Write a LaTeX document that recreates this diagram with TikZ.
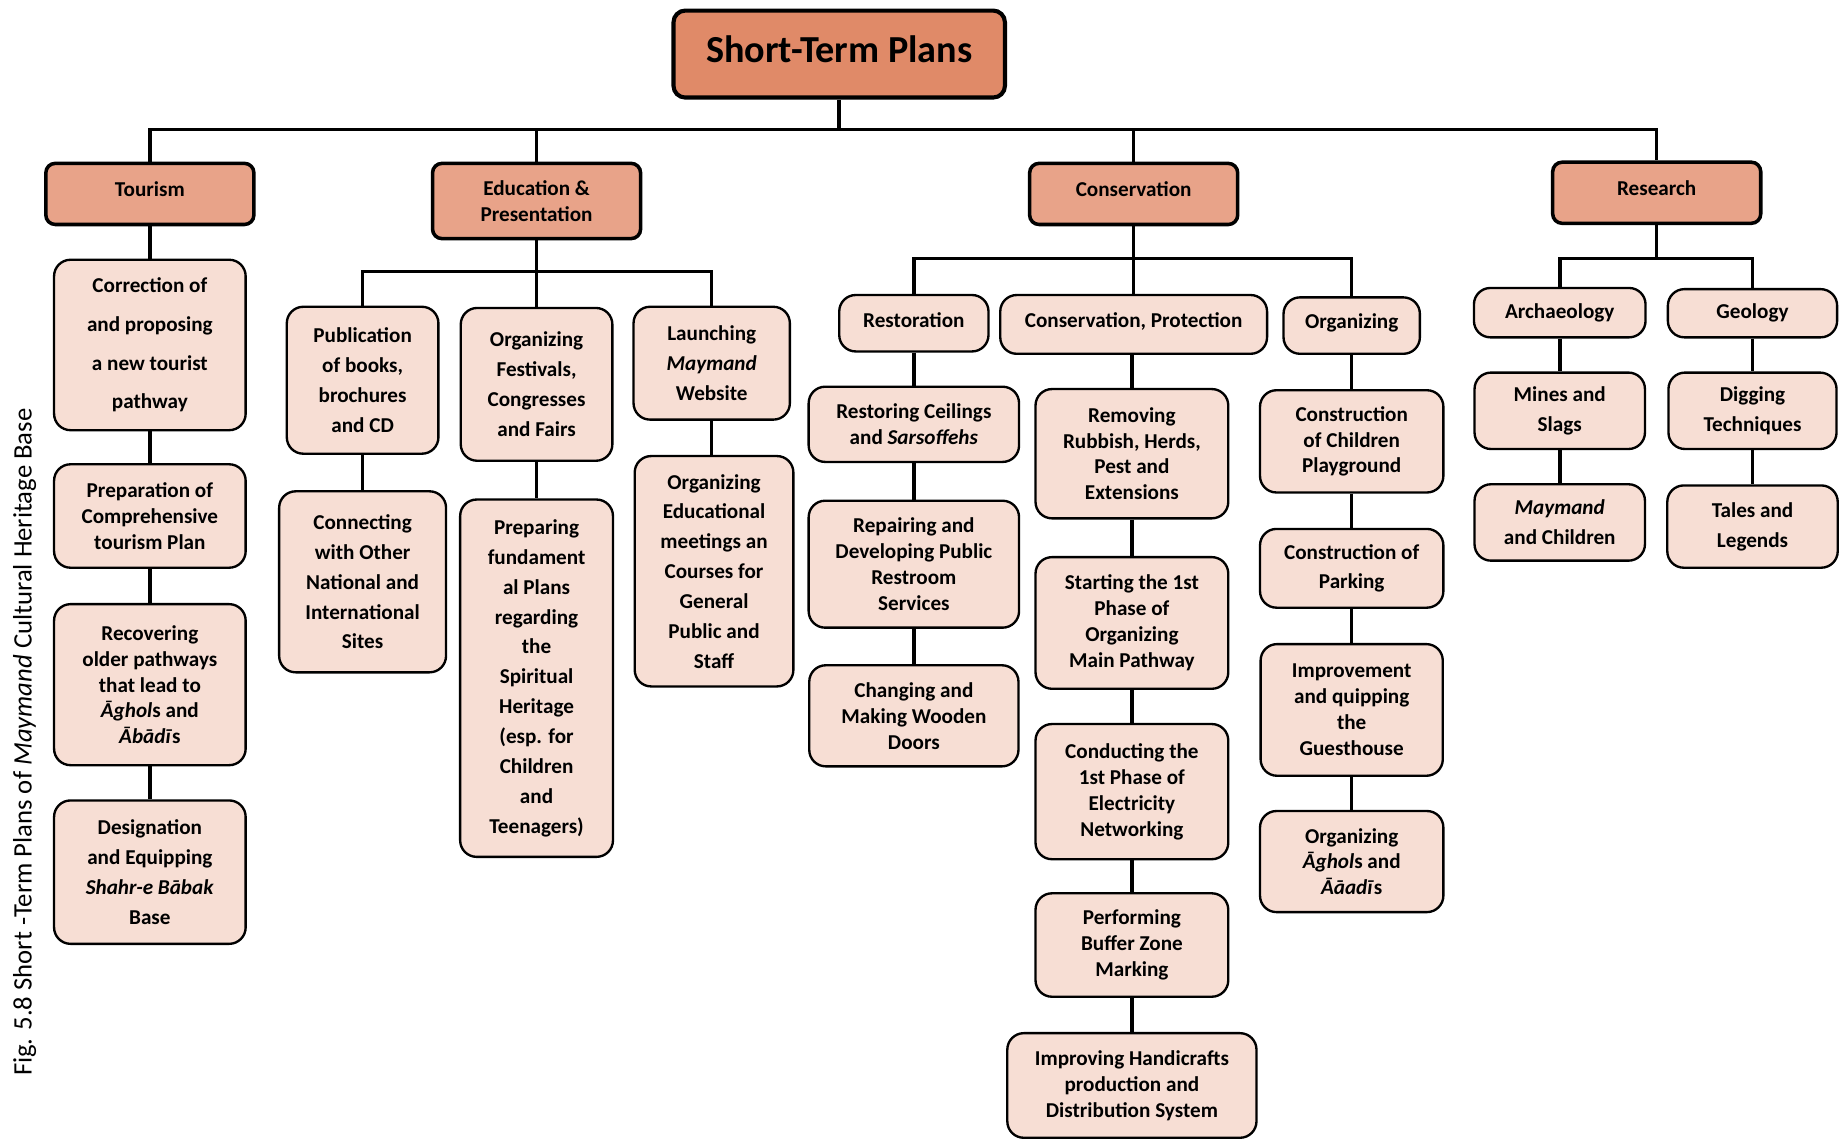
\documentclass[tikz,border=0pt]{standalone}
\usepackage{fontspec}
\setmainfont{Carlito}

\definecolor{saumonFonce}{RGB}{224,138,104}
\definecolor{saumon}{RGB}{232,163,137}
\definecolor{saumonClair}{RGB}{247,222,212}

\begin{document}
\begin{tikzpicture}[x=1pt,y=-1pt]
    		\tikzstyle{racine}=[draw, line width=3.5pt, rounded corners=10pt, fill=saumonFonce, inner sep=0pt, text depth=8pt, font=\bfseries\fontsize{32.5}{38}\selectfont]
    		\tikzstyle{branche}=[draw, line width=3pt, rounded corners=8pt, fill=saumon, inner sep=0pt, align=center, font=\bfseries\fontsize{18}{22}\selectfont]
    		\tikzstyle{feuille}=[draw, line width=2pt, rounded corners=14pt, fill=saumonClair, inner sep=0pt, align=center, font=\bfseries\fontsize{18}{22}\selectfont]
    		\tikzstyle{feuilleAeree}=[feuille, font=\bfseries\fontsize{18}{25.4}\selectfont]
    		\tikzstyle{lien}=[line width=3pt]

    		\useasboundingbox (0,0) rectangle (1568,971);

    		% root and the four branches
    		\node [racine, minimum width=282pt, minimum height=74pt] (racine) at (714,46) {Short-Term Plans};
    		\node [branche, minimum width=177pt, minimum height=52pt, text depth=8pt] (tourism) at (127.5,165) {Tourism};
    		\node [branche, minimum width=177pt, minimum height=64pt] (education) at (456.5,171) {Education \&\\Presentation};
    		\node [branche, minimum width=177pt, minimum height=52pt, text depth=8pt] (conservation) at (964.5,165) {Conservation};
    		\node [branche, minimum width=177pt, minimum height=52pt, text depth=8pt] (research) at (1409.5,164) {Research};

    		% tourism
    		\node [feuille, minimum width=163pt, minimum height=145pt, font=\bfseries\fontsize{18}{33}\selectfont] (correction) at (127.5,293.5) {Correction of\\and proposing\\a new tourist\\pathway};
    		\node [feuille, minimum width=163pt, minimum height=88pt] (preparation) at (127.5,439) {Preparation of\\Comprehensive\\tourism Plan};
    		\node [feuille, minimum width=163pt, minimum height=137pt] (recovering) at (127.5,582.5) {Recovering\\older pathways\\that lead to\\\textit{Āghol}s and\\\textit{Ābādī}s};
    		\node [feuilleAeree, minimum width=163pt, minimum height=122pt] (designation) at (127.5,742) {Designation\\and Equipping\\\textit{Shahr-e Bābak}\\Base};

    		% education and presentation
    		\node [feuilleAeree, minimum width=129pt, minimum height=125pt] (publication) at (308.5,323.5) {Publication\\of books,\\brochures\\and CD};
    		\node [feuilleAeree, minimum width=142pt, minimum height=154pt] (connecting) at (308.5,495) {Connecting\\with Other\\National and\\International\\Sites};
    		\node [feuilleAeree, minimum width=129pt, minimum height=130pt] (festivals) at (456.5,327) {Organizing\\Festivals,\\Congresses\\and Fairs};
    		\node [feuilleAeree, minimum width=130pt, minimum height=304pt] (preparing) at (456.5,577) {Preparing\\fundament\\al Plans\\regarding\\the\\Spiritual\\Heritage\\(esp. for\\Children\\and\\Teenagers)};
    		\node [feuilleAeree, minimum width=133pt, minimum height=96pt] (launching) at (605.5,309) {Launching\\\textit{Maymand}\\Website};
    		\node [feuilleAeree, minimum width=135pt, minimum height=196pt] (meetings) at (607.5,486) {Organizing\\Educational\\meetings an\\Courses for\\General\\Public and\\Staff};

    		% conservation
    		\node [feuille, minimum width=127pt, minimum height=48pt, text depth=6pt] (restoration) at (777.5,275) {Restoration};
    		\node [feuille, minimum width=227pt, minimum height=50pt, text depth=8pt] (protection) at (964.5,276) {Conservation, Protection};
    		\node [feuille, minimum width=116pt, minimum height=48pt, text depth=8pt] (organizing) at (1150,277) {Organizing};

    		\node [feuille, minimum width=179pt, minimum height=64pt] (ceilings) at (777.5,361) {Restoring Ceilings\\and \textit{Sarsoffehs}};
    		\node [feuille, minimum width=179pt, minimum height=108pt] (restroom) at (777.5,480) {Repairing and\\Developing Public\\Restroom\\Services};
    		\node [feuille, minimum width=178pt, minimum height=86pt] (doors) at (777.5,609) {Changing and\\Making Wooden\\Doors};

    		\node [feuille, minimum width=164pt, minimum height=110pt] (rubbish) at (963,386) {Removing\\Rubbish, Herds,\\Pest and\\Extensions};
    		\node [feuille, minimum width=164pt, minimum height=112pt] (pathway) at (963,530) {Starting the 1st\\Phase of\\Organizing\\Main Pathway};
    		\node [feuille, minimum width=164pt, minimum height=115pt] (electricity) at (963,673.5) {Conducting the\\1st Phase of\\Electricity\\Networking};
    		\node [feuille, minimum width=164pt, minimum height=88pt] (buffer) at (963,804) {Performing\\Buffer Zone\\Marking};
    		\node [feuille, minimum width=212pt, minimum height=89pt] (handicrafts) at (963,923.5) {Improving Handicrafts\\production and\\Distribution System};

    		\node [feuille, minimum width=156pt, minimum height=87pt] (playground) at (1150,375.5) {Construction\\of Children\\Playground};
    		\node [feuilleAeree, minimum width=156pt, minimum height=67pt] (parking) at (1150,483.5) {Construction of\\Parking};
    		\node [feuille, minimum width=155pt, minimum height=112pt] (guesthouse) at (1150,604) {Improvement\\and quipping\\the\\Guesthouse};
    		\node [feuille, minimum width=156pt, minimum height=86pt] (aghols) at (1150,733) {Organizing\\\textit{Āghol}s and\\\textit{Āāadī}s};

    		% research
    		\node [feuille, minimum width=146pt, minimum height=42pt] (archaeology) at (1327,266) {Archaeology};
    		\node [feuille, minimum width=144pt, minimum height=41pt] (geology) at (1491,266.5) {Geology};
    		\node [feuilleAeree, minimum width=145pt, minimum height=65pt] (mines) at (1327,349.5) {Mines and\\Slags};
    		\node [feuilleAeree, minimum width=143pt, minimum height=65pt] (digging) at (1491,349.5) {Digging\\Techniques};
    		\node [feuilleAeree, minimum width=145pt, minimum height=65pt] (children) at (1327,444.5) {\textit{Maymand}\\and Children};
    		\node [feuilleAeree, minimum width=145pt, minimum height=70pt] (tales) at (1491,448) {Tales and\\Legends};

    		% caption
    		\node [rotate=90, font=\fontsize{22.7}{26}\selectfont] (legende) at (21,631.5) {Fig. 5.8 Short -Term Plans of \textit{Maymand} Cultural Heritage Base};

    		% main bus
    		\coordinate (busHaut) at (714,110);
    		\draw [lien] (racine.south) -- (racine.south |- busHaut);
    		\draw [lien] (tourism.north) |- (busHaut -| research.north) -- (research.north);
    		\draw [lien] (education.north) -- (education.north |- busHaut);
    		\draw [lien] (conservation.north) -- (conservation.north |- busHaut);

    		% tourism links
    		\draw [lien] (tourism.south) -- (correction.north);
    		\draw [lien] (correction.south) -- (preparation.north);
    		\draw [lien] (preparation.south) -- (recovering.north);
    		\draw [lien] (recovering.south) -- (designation.north);

    		% education links
    		\coordinate (busEdu) at (457,231);
    		\draw [lien] (education.south) -- (education.south |- busEdu);
    		\draw [lien] (publication.north) |- (busEdu -| launching.north) -- (launching.north);
    		\draw [lien] (festivals.north) -- (festivals.north |- busEdu);
    		\draw [lien] (publication.south) -- (connecting.north);
    		\draw [lien] (festivals.south) -- (preparing.north);
    		\draw [lien] (launching.south) -- (launching.south |- meetings.north);

    		% conservation links
    		\coordinate (busCons) at (965,220);
    		\draw [lien] (conservation.south) -- (conservation.south |- busCons);
    		\draw [lien] (restoration.north) |- (busCons -| organizing.north) -- (organizing.north);
    		\draw [lien] (protection.north) -- (protection.north |- busCons);
    		\draw [lien] (restoration.south) -- (ceilings.north);
    		\draw [lien] (ceilings.south) -- (restroom.north);
    		\draw [lien] (restroom.south) -- (restroom.south |- doors.north);
    		\draw [lien] (rubbish.north |- protection.south) -- (rubbish.north);
    		\draw [lien] (rubbish.south) -- (pathway.north);
    		\draw [lien] (pathway.south) -- (electricity.north);
    		\draw [lien] (electricity.south) -- (buffer.north);
    		\draw [lien] (buffer.south) -- (handicrafts.north);
    		\draw [lien] (organizing.south) -- (playground.north);
    		\draw [lien] (playground.south) -- (parking.north);
    		\draw [lien] (parking.south) -- (guesthouse.north);
    		\draw [lien] (guesthouse.south) -- (aghols.north);

    		% research links
    		\coordinate (busRech) at (1410,220);
    		\draw [lien] (research.south) -- (research.south |- busRech);
    		\draw [lien] (archaeology.north) |- (busRech -| geology.north) -- (geology.north);
    		\draw [lien] (archaeology.south) -- (mines.north);
    		\draw [lien] (mines.south) -- (children.north);
    		\draw [lien] (geology.south) -- (digging.north);
    		\draw [lien] (digging.south) -- (tales.north);

		\end{tikzpicture}
\end{document}
